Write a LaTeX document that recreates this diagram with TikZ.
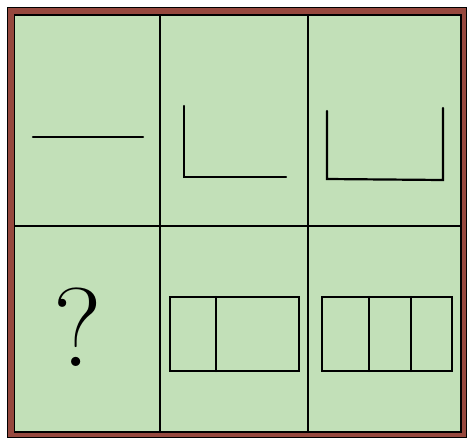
\documentclass[tikz,border=0pt]{standalone}
\begin{document}
\begin{tikzpicture}[x=1pt,y=-1pt,
  frameline/.style={draw=black,line width=1.2pt},
  grid/.style={draw=black,line width=1.3pt},
  fig/.style={draw=black,line width=2.2pt,line cap=round,line join=miter}]
\useasboundingbox (0,0) rectangle (469,439);
\definecolor{cellgreen}{RGB}{194,224,184}
\definecolor{framebrown}{RGB}{150,72,62}
% frame
\fill[framebrown,draw=black,line width=1.3pt] (7.5,7.5) rectangle (466.5,437.5);
\fill[cellgreen,draw=black,line width=1.3pt] (14.5,15) rectangle (461,432);
% grid
\coordinate (v1t) at (160,15); \coordinate (v1b) at (160,432);
\coordinate (v2t) at (308,15); \coordinate (v2b) at (308,432);
\coordinate (hl) at (14.5,226); \coordinate (hr) at (461,226);
\draw[grid] (v1t) -- (v1b);
\draw[grid] (v2t) -- (v2b);
\draw[grid] (hl) -- (hr);
% top left
\coordinate (a1) at (33,137); \coordinate (a2) at (143,137);
\draw[fig] (a1) -- (a2);
% top middle
\coordinate (b1) at (184,106); \coordinate (b2) at (184,177); \coordinate (b3) at (286,177);
\draw[fig] (b1) -- (b2) -- (b3);
% top right
\coordinate (c1) at (327,111); \coordinate (c2) at (327,179); \coordinate (c3) at (443,180); \coordinate (c4) at (443,108);
\draw[fig] (c1) -- (c2) -- (c3) -- (c4);
% question mark
\node[inner sep=0pt,font=\fontsize{112}{112}\selectfont] (q) at (78,327) {?};
% bottom middle
\draw[fig] (170,297) rectangle (299,371);
\coordinate (d1) at (216,297); \coordinate (d2) at (216,371);
\draw[fig] (d1) -- (d2);
% bottom right
\draw[fig] (322,297) rectangle (452,371);
\coordinate (e1) at (369,297); \coordinate (e2) at (369,371);
\coordinate (f1) at (411,297); \coordinate (f2) at (411,371);
\draw[fig] (e1) -- (e2);
\draw[fig] (f1) -- (f2);
\end{tikzpicture}
\end{document}
